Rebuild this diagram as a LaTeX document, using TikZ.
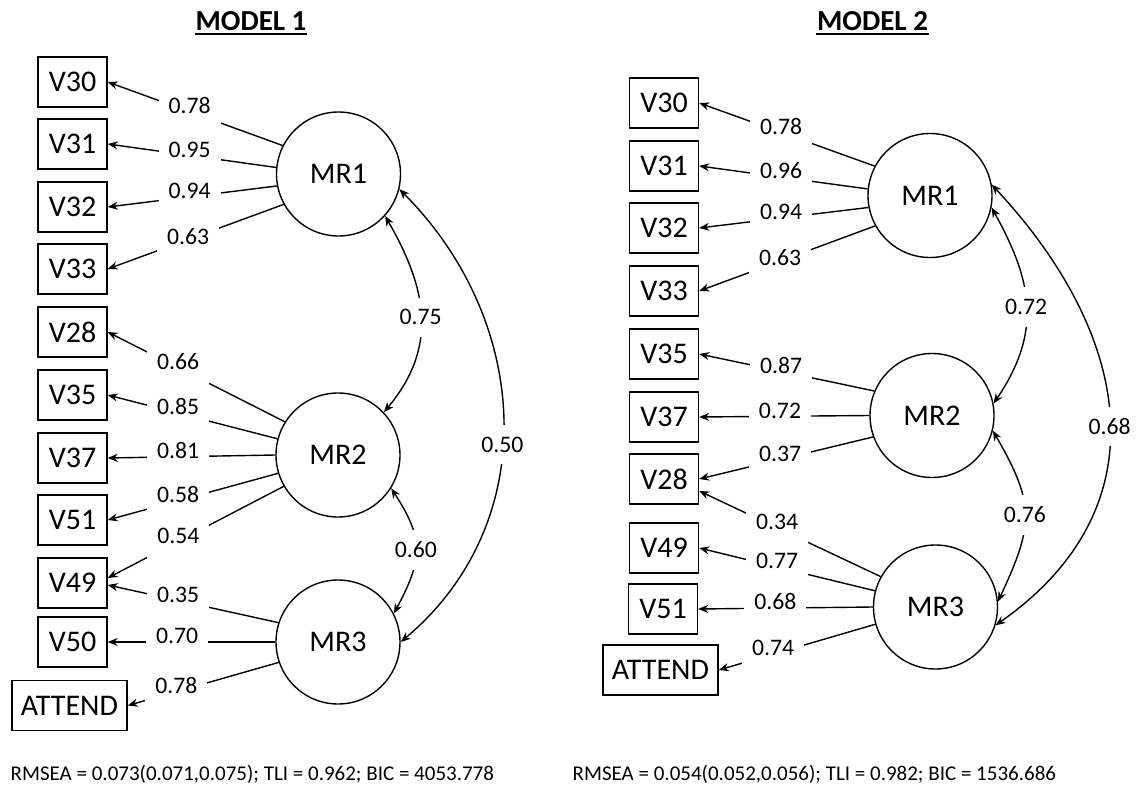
\documentclass[tikz,border=0pt]{standalone}
\usepackage{fontspec}
\setmainfont{Carlito}
\usetikzlibrary{arrows.meta}
\begin{document}
\begin{tikzpicture}[x=1bp,y=1bp,line width=1.4bp,
  obs/.style={draw, rectangle, minimum width=69bp, minimum height=50bp, inner sep=0pt, font=\fontsize{30bp}{36bp}\selectfont},
  lat/.style={draw, circle, minimum size=124bp, inner sep=0pt, font=\fontsize{30bp}{36bp}\selectfont},
  lbl/.style={fill=white, inner xsep=10bp, inner ysep=4bp, text height=15.4bp, text depth=11.9bp, font=\fontsize{23.7bp}{28bp}\selectfont},
  clbl/.style={fill=white, inner xsep=6bp, inner ysep=12bp, text height=15.4bp, text depth=0bp, font=\fontsize{23.7bp}{28bp}\selectfont},
  ttl/.style={anchor=base, inner sep=0pt, font=\fontsize{29bp}{35bp}\selectfont\bfseries},
  fit/.style={anchor=base west, inner sep=0pt, font=\fontsize{21bp}{25bp}\selectfont},
  ld/.style={-{Stealth[length=10bp,width=8bp]}},
  cv/.style={{Stealth[length=10bp,width=8bp]}-{Stealth[length=10bp,width=8bp]}},
]
\fill[white] (0,0) rectangle (1140,-786);
\useasboundingbox (0,0) rectangle (1140,-786);

% ---------------- MODEL 1 ----------------
\node[ttl] (t1) at (251,-30.7) {MODEL 1};
\draw[line width=2.5bp] ([yshift=-3.5bp]t1.base west) -- ([yshift=-3.5bp]t1.base east);

\node[lat] (aF1) at (338.5,-174) {MR1};
\node[lat] (aF2) at (338,-455) {MR2};
\node[lat] (aF3) at (338,-642) {MR3};
\node[obs] (a30) at (72.5,-82) {V30};
\node[obs] (a31) at (72.5,-144) {V31};
\node[obs] (a32) at (72.5,-207) {V32};
\node[obs] (a33) at (72.5,-269) {V33};
\node[obs] (a28) at (72.5,-332) {V28};
\node[obs] (a35) at (72.5,-395) {V35};
\node[obs] (a37) at (72.5,-458) {V37};
\node[obs] (a51) at (72.5,-520) {V51};
\node[obs] (a49) at (72.5,-583) {V49};
\node[obs] (a50) at (72.5,-642) {V50};
\node[obs, minimum width=115bp] (aAT) at (69.5,-705.5) {ATTEND};

\draw[ld] (aF1.153) -- node[lbl,pos=0.532]{0.78} (a30.east);
\draw[ld] (aF1.174) -- node[lbl,pos=0.514]{0.95} (a31.east);
\draw[ld] (aF1.191) -- node[lbl,pos=0.516]{0.94} (a32.east);
\draw[ld] (aF1.209) -- node[lbl,pos=0.543,yshift=-3bp]{0.63} (a33.east);
\draw[ld] (aF2.148) -- node[lbl,pos=0.602]{0.66} (a28.east);
\draw[ld] (aF2.165) -- node[lbl,pos=0.585]{0.85} (a35.east);
\draw[ld] (aF2.180) -- node[lbl,pos=0.58]{0.81} (a37.east);
\draw[ld] (aF2.197) -- node[lbl,pos=0.587]{0.58} (a51.east);
\draw[ld] (aF2.210) -- node[lbl,pos=0.599]{0.54} ([yshift=5bp]a49.east);
\draw[ld] (aF3.162) -- node[lbl,pos=0.587]{0.35} ([yshift=-2bp]a49.east);
\draw[ld] (aF3.180) -- node[lbl,pos=0.586]{0.70} (a50.east);
\draw[ld] (aF3.199) -- node[lbl,pos=0.678]{0.78} (aAT.east);

\draw[cv] (aF2.43) to[out=50,in=-60,looseness=1.1] node[clbl]{0.75} (aF1.-42);
\draw[cv] (aF2.-32) to[out=-57,in=62,looseness=1.25] node[clbl]{0.60} (aF3.27);
\draw[cv] (aF1.-14) to[out=-45,in=40,looseness=1.05] node[clbl,pos=0.55]{0.50} (aF3.0);

\node[fit] (s1) at (10,-780) {RMSEA = 0.073(0.071,0.075); TLI = 0.962; BIC = 4053.778};

% ---------------- MODEL 2 ----------------
\node[ttl] (t2) at (872.5,-30.7) {MODEL 2};
\draw[line width=2.5bp] ([yshift=-3.5bp]t2.base west) -- ([yshift=-3.5bp]t2.base east);

\node[lat] (bF1) at (930,-195.5) {MR1};
\node[lat] (bF2) at (932,-415.5) {MR2};
\node[lat] (bF3) at (935.5,-607) {MR3};
\node[obs] (b30) at (664,-103) {V30};
\node[obs] (b31) at (664,-166) {V31};
\node[obs] (b32) at (664,-228) {V32};
\node[obs] (b33) at (664,-291) {V33};
\node[obs] (b35) at (664,-354) {V35};
\node[obs] (b37) at (664,-417) {V37};
\node[obs] (b28) at (664,-479) {V28};
\node[obs] (b49) at (664,-548) {V49};
\node[obs] (b51) at (663,-609) {V51};
\node[obs, minimum width=115bp] (bAT) at (660.5,-670) {ATTEND};

\draw[ld] (bF1.152) -- node[lbl,pos=0.533]{0.78} (b30.east);
\draw[ld] (bF1.174) -- node[lbl,pos=0.514]{0.96} (b31.east);
\draw[ld] (bF1.191) -- node[lbl,pos=0.516]{0.94} (b32.east);
\draw[ld] (bF1.209) -- node[lbl,pos=0.540,yshift=-3bp]{0.63} (b33.east);
\draw[ld] (bF2.157) -- node[lbl,pos=0.532]{0.87} (b35.east);
\draw[ld] (bF2.180) -- node[lbl,pos=0.525]{0.72} (b37.east);
\draw[ld] (bF2.200) -- node[lbl,pos=0.535]{0.37} (b28.east);
\draw[ld] (bF3.151) -- node[lbl,pos=0.571]{0.34} ([yshift=-12bp]b28.east);
\draw[ld] (bF3.165) -- node[lbl,pos=0.557]{0.77} (b49.east);
\draw[ld] (bF3.180) -- node[lbl,pos=0.558]{0.68} (b51.east);
\draw[ld] (bF3.196) -- node[lbl,pos=0.652]{0.74} (bAT.east);

\draw[cv] (bF1.-11) to[out=-61,in=56,looseness=1.12] node[clbl]{0.72} (bF2.11);
\draw[cv] (bF2.-14) to[out=-60,in=65,looseness=1.27] node[clbl]{0.76} (bF3.5);
\draw[cv] (bF1.10) to[out=-47,in=35,looseness=1.19] node[clbl,pos=0.52]{0.68} (bF3.-17);

\node[fit] (s2) at (572,-780) {RMSEA = 0.054(0.052,0.056); TLI = 0.982; BIC = 1536.686};
\end{tikzpicture}
\end{document}
